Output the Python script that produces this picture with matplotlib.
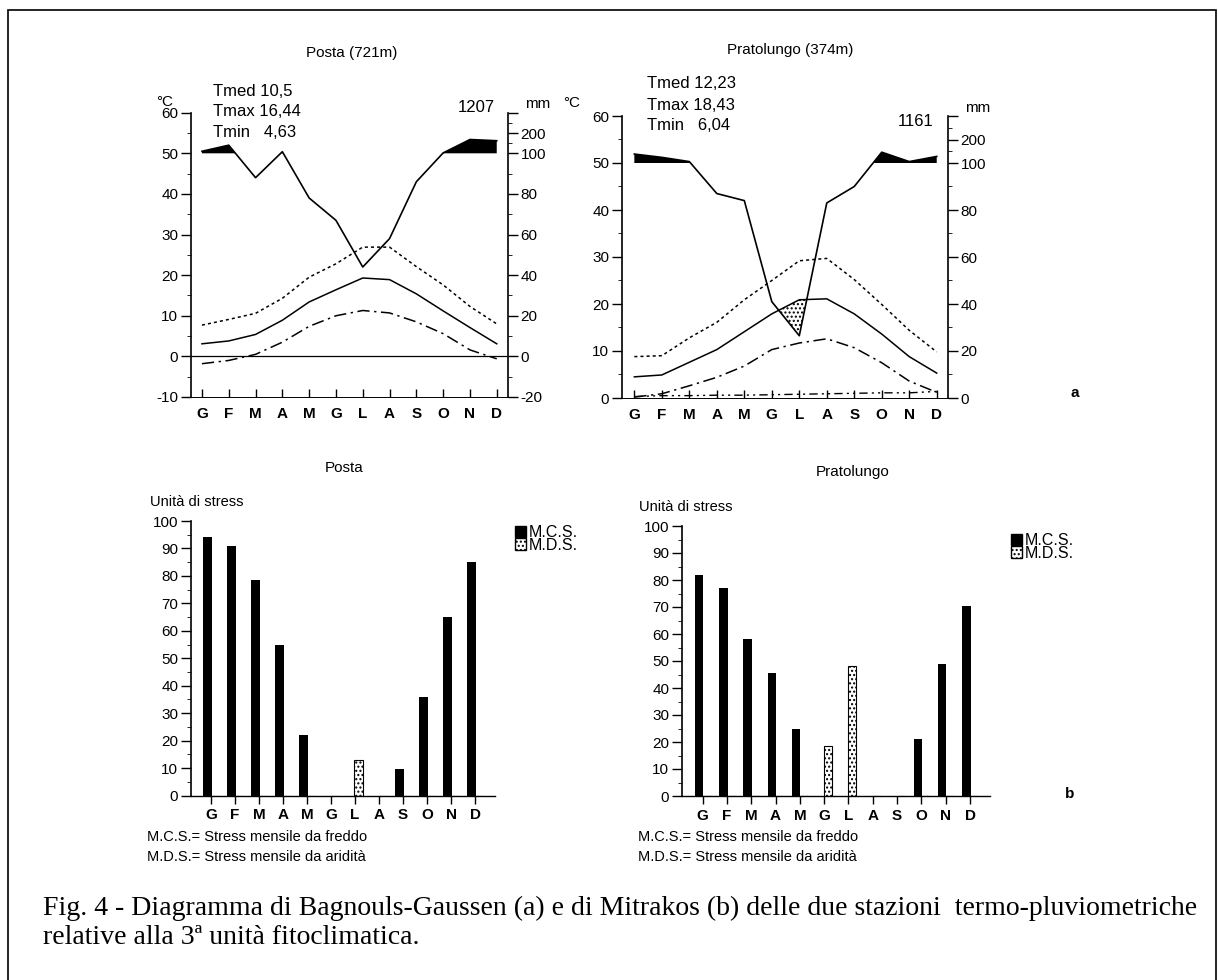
import numpy as np
import matplotlib
matplotlib.use("Agg")
import matplotlib.pyplot as plt
from matplotlib.patches import Patch, Rectangle

plt.rcParams['font.family'] = ['Liberation Sans', 'DejaVu Sans']
plt.rcParams['hatch.linewidth'] = 1.0
plt.rcParams['axes.unicode_minus'] = False

W, H = 1218, 980

months = ['G', 'F', 'M', 'A', 'M', 'G', 'L', 'A', 'S', 'O', 'N', 'D']

# Posta (721m) - monthly rain (mm) and temperatures (°C)
posta_rain = [110, 140, 88, 108, 78, 67, 44, 58, 86, 102, 168, 162]
posta_tmed = [3.1, 3.8, 5.4, 8.9, 13.4, 16.4, 19.3, 18.9, 15.4, 11.2, 7.1, 3.1]
posta_tmax = [7.7, 9.1, 10.6, 14.3, 19.5, 22.8, 26.9, 26.9, 22.1, 17.6, 12.3, 8.0]
posta_tmin = [-1.8, -1.0, 0.5, 3.5, 7.4, 10.0, 11.3, 10.7, 8.5, 5.6, 1.6, -0.6]

# Pratolungo (374m)
prato_rain = [138, 124, 106, 87, 84, 41, 26.5, 83, 90, 146, 106, 128]
prato_tmed = [4.5, 4.9, 7.6, 10.3, 14.1, 17.9, 20.9, 21.1, 17.9, 13.6, 8.8, 5.3]
prato_tmax = [8.8, 9.0, 12.8, 16.1, 20.9, 25.0, 29.2, 29.7, 25.2, 19.9, 14.4, 9.8]
prato_tmin = [0.2, 0.9, 2.6, 4.4, 6.8, 10.3, 11.7, 12.6, 10.7, 7.5, 3.6, 1.2]
prato_tlow = [0.3, 0.5, 0.5, 0.6, 0.6, 0.7, 0.8, 0.9, 1.0, 1.1, 1.1, 1.4]

# Mitrakos stress units
posta_mcs = [94, 91, 78.5, 55, 22, 0, 0, 0, 9.5, 36, 65, 85]
posta_mds = [0, 0, 0, 0, 0, 0, 13, 0, 0, 0, 0, 0]
prato_mcs = [82, 77, 58, 45.5, 25, 0, 0, 0, 0, 21, 49, 70.5]
prato_mds = [0, 0, 0, 0, 0, 18.5, 48, 0, 0, 0, 0, 0]


def rect(left, right, top, bottom):
    return [left / W, 1 - bottom / H, (right - left) / W, (bottom - top) / H]


def ftext(x, y, s, **kw):
    kw.setdefault('va', 'center')
    fig.text(x / W, 1 - y / H, s, **kw)


def rain_to_deg(mm):
    # 0-100 mm at 2 mm/°C, above 100 mm compressed 10 times
    mm = np.asarray(mm, dtype=float)
    return np.where(mm <= 100, mm / 2, 50 + (mm - 100) / 20)


def gaussen(ax, rain, tmed, tmax, tmin, ymin, xlim):
    x = np.arange(12)
    p = rain_to_deg(rain)
    tmed = np.asarray(tmed)
    ax.plot(x, p, color='black', lw=1.2)
    ax.fill_between(x, 50, p, where=p > 50, interpolate=True,
                    color='black', lw=0)
    ax.fill_between(x, p, tmed, where=p < tmed, interpolate=True,
                    facecolor='white', edgecolor='black', hatch='....', lw=0)
    ax.plot(x, tmed, color='black', lw=1.1)
    ax.plot(x, tmax, color='black', lw=1.1, ls=(0, (2, 2)))
    ax.plot(x, tmin, color='black', lw=1.1, ls=(0, (8, 3, 1.5, 3)))
    ax.set_xlim(*xlim)
    ax.set_ylim(ymin, 60)
    ax.set_xticks(x)
    ax.set_xticklabels(months, fontsize=11, fontweight='bold')
    ax.tick_params(axis='x', direction='in', length=6, width=1, pad=7)
    ax.set_yticks(np.arange(ymin, 61, 10))
    ax.set_yticks(np.arange(ymin + 5, 60, 5), minor=True)
    ax.tick_params(axis='y', which='major', direction='out', length=7,
                   width=1, labelsize=11, pad=2)
    ax.tick_params(axis='y', which='minor', direction='out', length=3)
    ax.spines['top'].set_visible(False)
    ax.spines['right'].set_visible(False)
    ax.spines['bottom'].set_linewidth(0.7)
    ax.spines['left'].set_linewidth(1.2)

    ax2 = ax.twinx()
    ax2.set_ylim(ymin, 60)
    mm_ticks = [mm for mm in [-20, 0, 20, 40, 60, 80, 100, 200] if mm / 2 >= ymin]
    ax2.set_yticks(list(rain_to_deg(mm_ticks)) + [60])
    ax2.set_yticklabels([str(m) for m in mm_ticks] + [''])
    ax2.set_yticks([v for v in np.arange(ymin + 5, 50, 5)] + [52.5, 57.5], minor=True)
    ax2.tick_params(axis='y', which='major', direction='out', length=7,
                    width=1, labelsize=11, pad=2)
    ax2.tick_params(axis='y', which='minor', direction='out', length=3)
    for s in ['top', 'left', 'bottom']:
        ax2.spines[s].set_visible(False)
    ax2.spines['right'].set_linewidth(1.2)
    return ax


def mitrakos(ax, mcs, mds, xlim):
    x = np.arange(12)
    ax.bar(x - 0.15, mcs, width=0.35, color='black')
    ax.bar(x + 0.15, mds, width=0.35, facecolor='white', edgecolor='black',
           hatch='....', lw=0.8)
    ax.set_xlim(*xlim)
    ax.set_ylim(0, 100)
    ax.set_xticks(x)
    ax.set_xticklabels(months, fontsize=11, fontweight='bold')
    ax.tick_params(axis='x', direction='out', length=6, width=1, pad=3)
    ax.set_yticks(np.arange(0, 101, 10))
    ax.set_yticks(np.arange(5, 100, 5), minor=True)
    ax.tick_params(axis='y', which='major', direction='out', length=7,
                   width=1, labelsize=11, pad=2)
    ax.tick_params(axis='y', which='minor', direction='out', length=3)
    ax.spines['top'].set_visible(False)
    ax.spines['right'].set_visible(False)
    ax.spines['left'].set_linewidth(1.2)
    ax.spines['bottom'].set_linewidth(1.0)


fig = plt.figure(figsize=(W / 100, H / 100), dpi=100)

# outer frame (bottom edge falls outside the page)
fig.patches.append(Rectangle((8 / W, -0.05), (1216 - 8) / W, 1.05 - 10 / H,
                             transform=fig.transFigure, fill=False,
                             edgecolor='black', lw=1.2, clip_on=False))

# (a) Bagnouls-Gaussen
ax1 = fig.add_axes(rect(190.7, 508, 112.7, 397))
gaussen(ax1, posta_rain, posta_tmed, posta_tmax, posta_tmin, -10, (-0.42, 11.42))
ax1.axhline(0, color='black', lw=0.9)

ax2 = fig.add_axes(rect(621.7, 948, 116, 398))
gaussen(ax2, prato_rain, prato_tmed, prato_tmax, prato_tmin, 0, (-0.46, 11.41))
ax2.plot(np.arange(12), prato_tlow, color='black', lw=1.0,
         ls=(0, (6, 3, 1.5, 3, 1.5, 3)))

ftext(352, 53, 'Posta (721m)', ha='center', fontsize=11)
ftext(213, 92, 'Tmed 10,5', fontsize=12)
ftext(213, 112, 'Tmax 16,44', fontsize=12)
ftext(213, 132, 'Tmin   4,63', fontsize=12)
ftext(495, 107, '1207', ha='right', fontsize=12)
ftext(538, 104, 'mm', ha='center', fontsize=11)
ftext(165, 102, '°C', ha='center', fontsize=11)

ftext(790, 50, 'Pratolungo (374m)', ha='center', fontsize=11)
ftext(647, 83, 'Tmed 12,23', fontsize=12)
ftext(647, 105, 'Tmax 18,43', fontsize=12)
ftext(647, 125, 'Tmin   6,04', fontsize=12)
ftext(934, 122, '1161', ha='right', fontsize=12)
ftext(978, 108, 'mm', ha='center', fontsize=11)
ftext(572, 103, '°C', ha='center', fontsize=11)
ftext(1075, 393, 'a', ha='center', fontsize=11, fontweight='bold')

# (b) Mitrakos
bx1 = fig.add_axes(rect(190.7, 495, 521, 795.5))
mitrakos(bx1, posta_mcs, posta_mds, (-0.85, 11.83))
bx2 = fig.add_axes(rect(681.7, 990, 526, 796))
mitrakos(bx2, prato_mcs, prato_mds, (-0.86, 11.82))

handles = [Patch(facecolor='black', edgecolor='black'),
           Patch(facecolor='white', edgecolor='black', hatch='....')]
for (lx, ly) in [(515, 525), (1011, 533)]:
    fig.legend(handles, ['M.C.S.', 'M.D.S.'], loc='upper left',
               bbox_to_anchor=(lx / W, 1 - ly / H), frameon=False,
               fontsize=11.5, handlelength=0.7, handleheight=0.7,
               handletextpad=0.15, labelspacing=-0.15, borderpad=0,
               borderaxespad=0)

ftext(344, 468, 'Posta', ha='center', fontsize=11)
ftext(150, 502, 'Unità di stress', fontsize=10.5)
ftext(147, 837, 'M.C.S.= Stress mensile da freddo', fontsize=10.5)
ftext(147, 857, 'M.D.S.= Stress mensile da aridità', fontsize=10.5)

ftext(853, 472, 'Pratolungo', ha='center', fontsize=11)
ftext(639, 507, 'Unità di stress', fontsize=10.5)
ftext(638, 837, 'M.C.S.= Stress mensile da freddo', fontsize=10.5)
ftext(638, 857, 'M.D.S.= Stress mensile da aridità', fontsize=10.5)
ftext(1070, 794, 'b', ha='center', fontsize=11, fontweight='bold')

ftext(43, 908, 'Fig. 4 - Diagramma di Bagnouls-Gaussen (a) e di Mitrakos (b) '
      'delle due stazioni  termo-pluviometriche',
      fontsize=20, family='Liberation Serif')
ftext(43, 937, 'relative alla 3ª unità fitoclimatica.',
      fontsize=20, family='Liberation Serif')

fig.savefig('out.png', dpi=100)
